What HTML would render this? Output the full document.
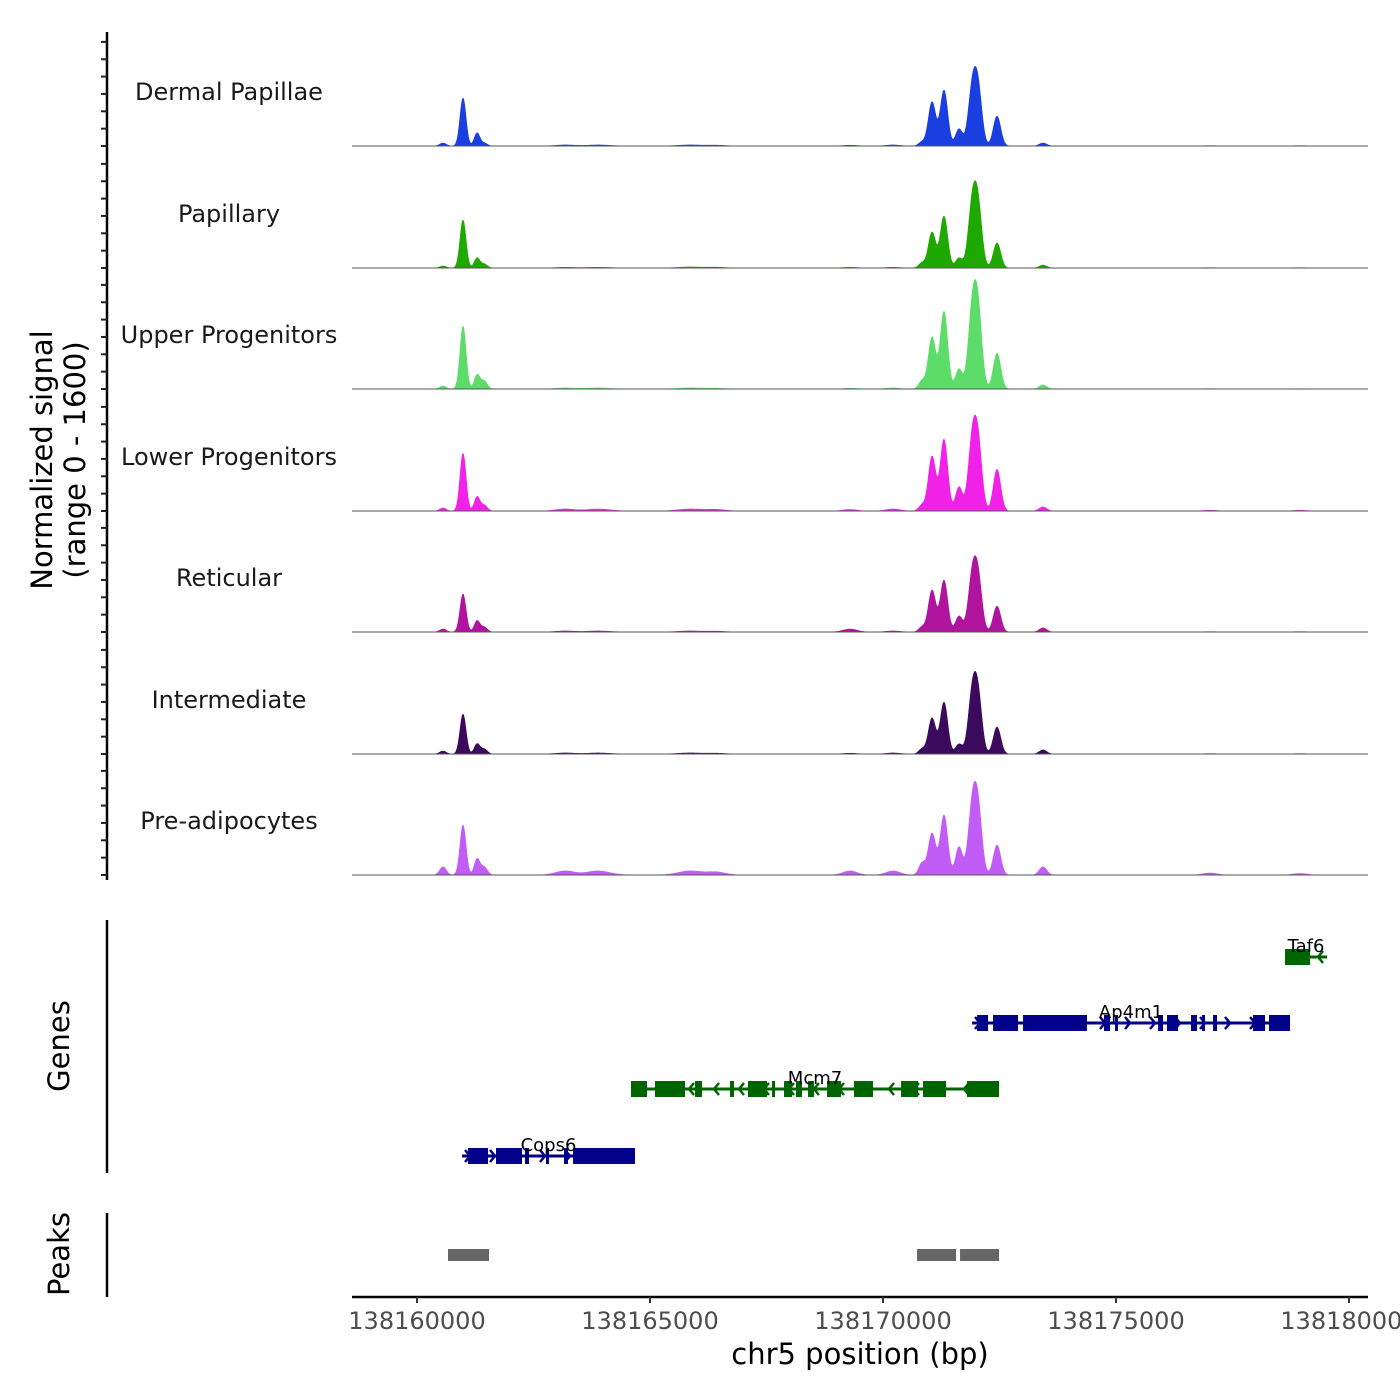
<!DOCTYPE html>
<html><head><meta charset="utf-8">
<style>
html,body{margin:0;padding:0;background:#fff;}
svg{display:block;font-family:"DejaVu Sans","Liberation Sans",sans-serif;}
</style></head>
<body>
<svg id="chart" width="1400" height="1400" viewBox="0 0 1400 1400">
<g id="tracks"></g>
<g id="genes"></g>
<g id="peaks"></g>
<g id="axes"></g>
<text x="52" y="460" font-size="29" text-anchor="middle" transform="rotate(-90 52 460)">Normalized signal</text>
<text x="85" y="460" font-size="29" text-anchor="middle" transform="rotate(-90 85 460)">(range 0 - 1600)</text>
<text x="69" y="1046" font-size="29" text-anchor="middle" transform="rotate(-90 69 1046)">Genes</text>
<text x="69" y="1254" font-size="29" text-anchor="middle" transform="rotate(-90 69 1254)">Peaks</text>
<text x="860" y="1364" font-size="29" text-anchor="middle">chr5 position (bp)</text>
</svg>
<script>
const trackNames = ["Dermal Papillae","Papillary","Upper Progenitors","Lower Progenitors","Reticular","Intermediate","Pre-adipocytes"];
const trackColors = ["#1a3ee0","#1ea800","#5ddc69","#f022e8","#b0149f","#3b0a5c","#c15cf6"];
const peakCenters = [138160558,138160987,138161288,138161438,138170837,138171052,138171309,138171631,138171910,138172039,138172447,138173434,138163176,138163884,138165858,138166416,138169292,138170215,138177018,138178949];
const peakWidths  = [70,65,60,70,70,80,80,75,85,85,80,80,200,250,250,200,150,150,150,150];
const sigDermal   = [40,650,175,40,55,595,755,230,700,740,405,40,14,14,14,10,10,14,5,5];
const sigPapillary= [27,650,135,55,68,485,700,135,780,800,340,40,10,10,14,10,10,10,5,5];
const sigUpper    = [40,850,190,110,110,700,1050,270,970,1010,485,55,14,14,14,10,10,14,5,5];
const sigLower    = [40,780,190,80,80,740,970,325,860,875,565,55,27,27,27,20,20,27,10,10];
const sigReticular= [40,515,150,68,68,565,700,215,680,700,350,55,14,14,14,10,40,14,5,5];
const sigInterm   = [40,540,135,68,68,485,700,135,740,755,365,55,14,14,14,10,10,14,5,5];
const sigPreadipo = [110,675,215,110,160,565,810,380,835,860,405,110,55,55,55,40,55,55,27,20];
const trackValues = [sigDermal,sigPapillary,sigUpper,sigLower,sigReticular,sigInterm,sigPreadipo];
const xTicks = [138160000,138165000,138170000,138175000,138180000];
const genes = [
 {name:"Cops6",strand:1,color:"#00008b",row:3,start:138160966,end:138164678,
  exons:[[138161094,138161524],[138161695,138162253],[138162318,138162403],[138162768,138162833],[138163155,138163240],[138163348,138164678]]},
 {name:"Mcm7",strand:-1,color:"#006400",row:2,start:138164592,end:138172490,
  exons:[[138164592,138164936],[138165107,138165751],[138165966,138166116],[138166717,138166803],[138167103,138167511],[138167618,138167683],[138167876,138168047],[138168133,138168262],[138168391,138168520],[138168799,138169099],[138169378,138169786],[138170387,138170751],[138170859,138171352],[138171803,138172490]]},
 {name:"Ap4m1",strand:1,color:"#00008b",row:1,start:138171910,end:138178734,
  exons:[[138172018,138172254],[138172361,138172897],[138173005,138174378],[138174743,138174872],[138174979,138175043],[138175902,138176009],[138176095,138176331],[138176610,138176739],[138176846,138176910],[138177082,138177168],[138177940,138178198],[138178284,138178734]]},
 {name:"Taf6",strand:-1,color:"#006400",row:0,start:138178627,end:138179529,
  exons:[[138178627,138179164]]}
];
const peakRegions = [[138160665,138161545],[138170730,138171567],[138171653,138172490]];

const NS="http://www.w3.org/2000/svg";
const X0=352, X1=1368, BP0=138158605, BPPX=5000/233;
const xs = bp => X0 + (bp-BP0)/BPPX;
const baselines=[146,268,389,511,632,754,875];
const PXPERUNIT = 118/1600;
function mk(tag,attrs,parent){const e=document.createElementNS(NS,tag);for(const k in attrs)e.setAttribute(k,attrs[k]);parent.appendChild(e);return e;}

const gT=document.getElementById('tracks');
trackNames.forEach((nm,t)=>{
  const g=mk('g',{},gT);
  
  
  const vals=trackValues[t];
  const b=baselines[t];
  let pts=[X0+','+b];
  for(let px=X0;px<=X1;px+=0.5){
    const bp=BP0+(px-X0)*BPPX;
    let v=0;
    for(let i=0;i<peakCenters.length;i++){const d=(bp-peakCenters[i])/peakWidths[i];v+=vals[i]*Math.exp(-0.5*d*d);}
    pts.push(px+','+(b-Math.min(v,1600)*PXPERUNIT).toFixed(2));
  }
  pts.push(X1+','+b);
  const poly=mk('polygon',{points:pts.join(' '),fill:trackColors[t],stroke:trackColors[t],'stroke-width':0.6},g);
  
  
  const ln=mk('line',{x1:X0,x2:X1,y1:b,y2:b,stroke:'#555','stroke-width':1},g);
  
  
  const lb=mk('text',{x:229,y:b-46,'font-size':24,'text-anchor':'middle',fill:'#1a1a1a'},g);
  lb.textContent=nm;
  
  
});

const gA=document.getElementById('axes');
mk('line',{x1:107,x2:107,y1:32,y2:880,stroke:'#000','stroke-width':2.5},gA);
baselines.forEach(b=>{for(let k=0;k<7;k++){const y=b-k*17.35;if(y<30)continue;mk('line',{x1:101,x2:107,y1:y,y2:y,stroke:'#222','stroke-width':2},gA);}});
mk('line',{x1:107,x2:107,y1:920,y2:1173,stroke:'#000','stroke-width':2.5},gA);
mk('line',{x1:107,x2:107,y1:1213,y2:1297,stroke:'#000','stroke-width':2.5},gA);
mk('line',{x1:352,x2:1368,y1:1297,y2:1297,stroke:'#000','stroke-width':2.5},gA);
xTicks.forEach(v=>{
  const x=xs(v);
  mk('line',{x1:x,x2:x,y1:1297,y2:1303,stroke:'#333','stroke-width':2},gA);
  const t=mk('text',{x:x,y:1329,'font-size':24,'text-anchor':'middle',fill:'#4d4d4d'},gA);
  t.textContent=String(v);
  
  
});

const gG=document.getElementById('genes');
const rowY=[957,1023,1089,1156];
genes.forEach(gn=>{
  const g=mk('g',{},gG);
  
  
  const y=rowY[gn.row];
  const x1=xs(gn.start), x2=xs(gn.end);
  mk('line',{x1:x1,x2:x2,y1:y,y2:y,stroke:gn.color,'stroke-width':3},g);
  for(let x=x1+8;x<=x2;x+=25){
    const d=gn.strand*5;
    mk('polyline',{points:(x-d)+','+(y-6)+' '+x+','+y+' '+(x-d)+','+(y+6),fill:'none',stroke:gn.color,'stroke-width':2.5},g);
  }
  gn.exons.forEach(e=>{
    const r=mk('rect',{x:xs(e[0]),y:y-8,width:Math.max(3,xs(e[1])-xs(e[0])),height:16,fill:gn.color},g);
    
    
  });
  const t=mk('text',{x:(x1+x2)/2,y:y-5,'font-size':18,'text-anchor':'middle',fill:'#000'},g);
  t.textContent=gn.name;
  
  
});

const gP=document.getElementById('peaks');
peakRegions.forEach(p=>{
  const r=mk('rect',{x:xs(p[0]),y:1249,width:xs(p[1])-xs(p[0]),height:12,fill:'#666'},gP);
  
  
});
</script>
</body></html>
